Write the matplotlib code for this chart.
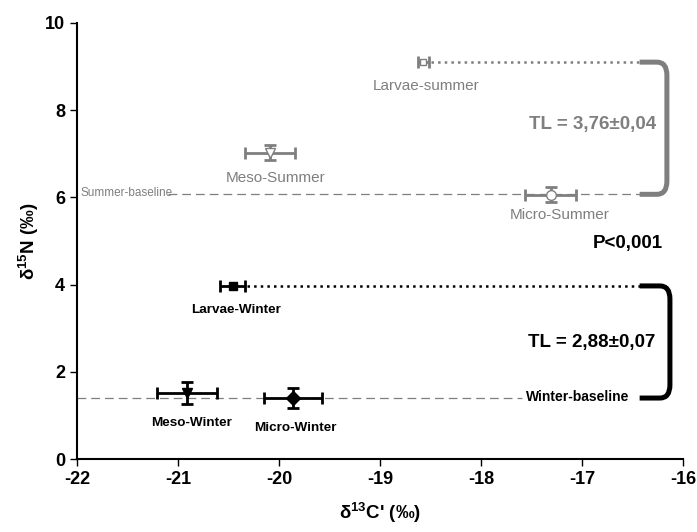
import numpy as np
import matplotlib.pyplot as plt
from matplotlib.path import Path
from matplotlib.patches import PathPatch

plt.rcParams['font.family'] = ['Liberation Sans', 'DejaVu Sans']
plt.rcParams['font.weight'] = 'bold'
plt.rcParams['axes.unicode_minus'] = False
plt.rcParams['mathtext.fontset'] = 'custom'
plt.rcParams['mathtext.rm'] = 'Liberation Sans:bold'
plt.rcParams['mathtext.bf'] = 'Liberation Sans:bold'
plt.rcParams['mathtext.default'] = 'bf'

# summer (grey, open markers)
summer_names = ['Larvae-summer', 'Meso-Summer', 'Micro-Summer']
summer_c = [-18.57, -20.09, -17.31]
summer_n = [9.10, 7.02, 6.06]
summer_cerr = [0.05, 0.25, 0.25]
summer_nerr = [0.0, 0.17, 0.17]
summer_mk = ['s', 'v', 'o']

# winter (black, filled markers)
winter_names = ['Larvae-Winter', 'Meso-Winter', 'Micro-Winter']
winter_c = [-20.46, -20.91, -19.86]
winter_n = [3.97, 1.51, 1.40]
winter_cerr = [0.12, 0.30, 0.29]
winter_nerr = [0.0, 0.25, 0.22]
winter_mk = ['s', 'v', 'D']

summer_base = 6.07
winter_base = 1.40
tl_summer = 'TL = 3,76±0,04'
tl_winter = 'TL = 2,88±0,07'

grey = '#7f7f7f'

fig = plt.figure(figsize=(6.97, 5.32), dpi=100)
ax = fig.add_axes([0.1105, 0.137, 0.8695, 0.82])

# baselines and larvae lines
ax.plot([-21.1, -16.43], [summer_base] * 2, ls=(0, (7, 4)), color=grey, lw=0.9)
ax.plot([-22, -17.59], [winter_base] * 2, ls=(0, (7, 4)), color=grey, lw=0.9)
ax.plot([summer_c[0] + 0.07, -16.43], [summer_n[0]] * 2, ls=':', color=grey, lw=1.8)
ax.plot([winter_c[0] + 0.14, -16.43], [winter_n[0]] * 2, ls=':', color='black', lw=1.8)

for c, n, ce, ne, mk in zip(summer_c, summer_n, summer_cerr, summer_nerr, summer_mk):
    ax.errorbar(c, n, xerr=ce, yerr=ne if ne else None, fmt=mk, mfc='white', mec=grey,
                ms=7 if mk != 's' else 5, ecolor=grey, elinewidth=2, capsize=4, capthick=2, zorder=5)
for c, n, ce, ne, mk in zip(winter_c, winter_n, winter_cerr, winter_nerr, winter_mk):
    ax.errorbar(c, n, xerr=ce, yerr=ne if ne else None, fmt=mk, mfc='black', mec='black',
                ms=7 if mk != 's' else 6, ecolor='black', elinewidth=2, capsize=4, capthick=2, zorder=5)


def bracket(y0, y1, x0, x1, color):
    r = 0.3
    verts = [(x0, y0), (x1 - 0.1, y0), (x1, y0), (x1, y0 - r),
             (x1, y1 + r), (x1, y1), (x1 - 0.1, y1), (x0, y1)]
    codes = [Path.MOVETO, Path.LINETO, Path.CURVE3, Path.CURVE3,
             Path.LINETO, Path.CURVE3, Path.CURVE3, Path.LINETO]
    ax.add_patch(PathPatch(Path(verts, codes), fill=False, lw=3.6, color=color,
                           capstyle='butt', clip_on=False))


bracket(summer_n[0], summer_base, -16.43, -16.16, grey)
bracket(winter_n[0], winter_base, -16.43, -16.13, 'black')

# labels
ax.text(-18.54, 8.55, summer_names[0], color=grey, fontsize=11, fontweight='normal', ha='center', va='center')
ax.text(-20.03, 6.44, summer_names[1], color=grey, fontsize=11, fontweight='normal', ha='center', va='center')
ax.text(-17.22, 5.60, summer_names[2], color=grey, fontsize=11, fontweight='normal', ha='center', va='center')
ax.text(-21.97, 6.10, 'Summer-baseline', color=grey, fontsize=8.5, fontweight='normal', ha='left', va='center')
ax.text(-20.43, 3.42, winter_names[0], color='black', fontsize=9.7, ha='center', va='center')
ax.text(-20.87, 0.83, winter_names[1], color='black', fontsize=9.7, ha='center', va='center')
ax.text(-19.84, 0.71, winter_names[2], color='black', fontsize=9.7, ha='center', va='center')
ax.text(-17.56, 1.42, 'Winter-baseline', color='black', fontsize=10, ha='left', va='center')

ax.text(-16.9, 7.66, tl_summer, color=grey, fontsize=13.5, ha='center', va='center')
ax.text(-16.9, 2.68, tl_winter, color='black', fontsize=13.5, ha='center', va='center')
ax.text(-16.55, 4.95, 'P<0,001', color='black', fontsize=13.5, ha='center', va='center')

ax.set_xlim(-22, -16)
ax.set_ylim(0, 10)
ax.set_xticks(np.arange(-22, -15.5, 1))
ax.set_yticks(np.arange(0, 10.5, 2))
for s in ['top', 'right']:
    ax.spines[s].set_visible(False)
for s in ['left', 'bottom']:
    ax.spines[s].set_linewidth(1.5)
ax.tick_params(labelsize=13, width=1, length=5, direction='out')
for lab in ax.get_xticklabels() + ax.get_yticklabels():
    lab.set_fontweight('bold')
ax.set_xlabel("δ$^{13}$C' (‰)", fontsize=13.5, fontweight='bold', labelpad=9)
ax.set_ylabel('δ$^{15}$N (‰)', fontsize=13.5, fontweight='bold', labelpad=3)

fig.savefig('out.png', dpi=100)
